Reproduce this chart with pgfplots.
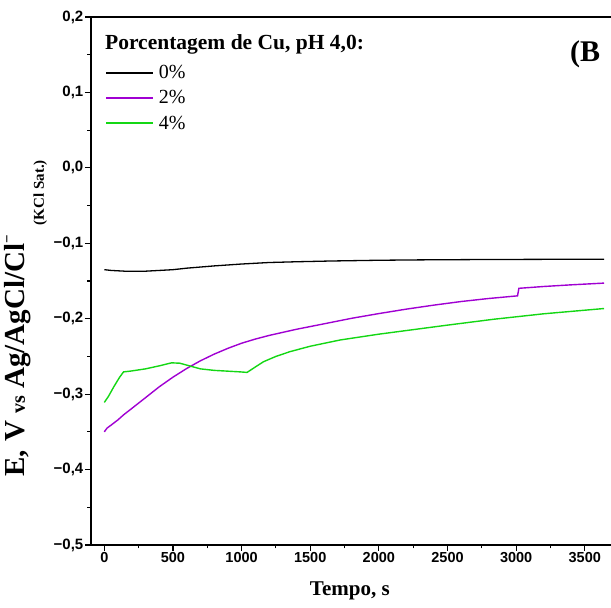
\documentclass[border=0pt]{standalone}
\usepackage{pgfplots}
\pgfplotsset{compat=1.18}
\usepackage{fontspec}
\setmainfont{Liberation Serif}
\newfontfamily\arialfont{Liberation Sans}
\definecolor{cpurple}{RGB}{160,0,210}
\definecolor{cgreen}{RGB}{20,215,20}
\begin{document}
\begin{tikzpicture}
\begin{axis}[
 scale only axis, width=524pt, height=528pt,
 xmin=-97, xmax=3720, ymin=-0.5, ymax=0.2,
 clip=false,
 axis line style={line width=1.2pt},
 tick align=outside, xtick pos=bottom, ytick pos=left,
 major tick length=6pt, minor tick length=3.5pt,
 every tick/.style={black, line width=1.1pt},
 xtick={0,500,1000,1500,2000,2500,3000,3500},
 xticklabels={0,500,1000,1500,2000,2500,3000,3500},
 minor x tick num=1,
 ytick={-0.5,-0.4,-0.3,-0.2,-0.1,0,0.1,0.2},
 yticklabels={{−0,5},{−0,4},{−0,3},{−0,2},{−0,1},{0,0},{0,1},{0,2}},
 minor y tick num=1,
 tick label style={font=\arialfont\bfseries\fontsize{14.5}{14.5}\selectfont},
 yticklabel style={font=\arialfont\bfseries\fontsize{15}{15}\selectfont, inner sep=1.5pt},
 xticklabel style={inner sep=1pt},
 xlabel={Tempo, s},
 xlabel style={font=\bfseries\fontsize{21}{21}\selectfont, at={([yshift=-51pt]rel axis cs:0.494,0)}, anchor=base},
 legend style={at={(rel axis cs:0.0267,0.9125)}, anchor=north west, draw=none, fill=none, inner sep=0pt,
   font=\fontsize{20}{20}\selectfont, row sep=6.5pt, column sep=3pt},
 legend cell align=left,
 legend image code/.code={\draw[#1] (0pt,0pt) -- (47pt,0pt);},
]
\addlegendimage{color=black, line width=1.8pt}
\addlegendentry{0\%}
\addlegendimage{color=cpurple, line width=1.8pt}
\addlegendentry{2\%}
\addlegendimage{color=cgreen, line width=1.8pt}
\addlegendentry{4\%}
\addplot[color=black, line width=1.3pt, forget plot] coordinates {
(0,-0.135) (50,-0.136) (150,-0.137) (300,-0.137) (400,-0.136) (500,-0.135)
(600,-0.133) (800,-0.130) (1000,-0.1275) (1200,-0.1255) (1400,-0.1245)
(1650,-0.1235) (2000,-0.1225) (2300,-0.122) (2800,-0.1215) (3200,-0.1213) (3640,-0.1212)
};
\addplot[color=cpurple, line width=1.4pt, forget plot] coordinates {
(0,-0.350) (20,-0.345) (50,-0.341) (100,-0.334) (140,-0.3275) (200,-0.319)
(300,-0.3047) (400,-0.2903) (500,-0.2775) (600,-0.2660) (700,-0.2558)
(800,-0.2470) (900,-0.2393) (1000,-0.2325) (1100,-0.2270) (1200,-0.2222)
(1400,-0.2140) (1600,-0.2068) (1800,-0.1995) (2000,-0.1932) (2200,-0.1873)
(2400,-0.1820) (2600,-0.1772) (2800,-0.1732) (3010,-0.1697) (3020,-0.1597)
(3200,-0.1573) (3400,-0.1551) (3640,-0.1528)
};
\addplot[color=cgreen, line width=1.4pt, forget plot] coordinates {
(0,-0.311) (30,-0.303) (70,-0.290) (110,-0.278) (140,-0.2705) (190,-0.2695)
(300,-0.2665) (400,-0.2625) (490,-0.2585) (550,-0.259) (620,-0.2625)
(700,-0.2665) (800,-0.2685) (990,-0.2705) (1040,-0.2712) (1100,-0.264)
(1160,-0.257) (1250,-0.250) (1352,-0.2437) (1500,-0.2365) (1718,-0.2282)
(2000,-0.2205) (2500,-0.2085) (2833,-0.2008) (3200,-0.1935) (3640,-0.1865)
};
\node[anchor=base west, inner sep=0pt, font=\bfseries\fontsize{21.5}{21.5}\selectfont] at (rel axis cs:0.0267,0.9375) {Porcentagem de Cu, pH 4,0:};
\node[anchor=base west, inner sep=0pt, font=\bfseries\fontsize{30}{30}\selectfont] at (rel axis cs:0.914,0.915) {(B};
\node[rotate=90, anchor=base west, inner sep=0pt, font=\bfseries\fontsize{29}{29}\selectfont] at ([xshift=-66pt]rel axis cs:0,0.1288) {E,\hspace{1pt} V {\fontsize{20}{20}\selectfont vs} Ag/AgCl/Cl\raisebox{13pt}{\fontsize{15}{15}\selectfont −}\hspace{10pt}\raisebox{-19pt}{\fontsize{15}{15}\selectfont (KCl Sat.)}};
\end{axis}
\pgfresetboundingbox
\useasboundingbox ([shift={(-91pt,-63pt)}]current axis.south west) rectangle ([shift={(520pt,17pt)}]current axis.north west);
\end{tikzpicture}
\end{document}
